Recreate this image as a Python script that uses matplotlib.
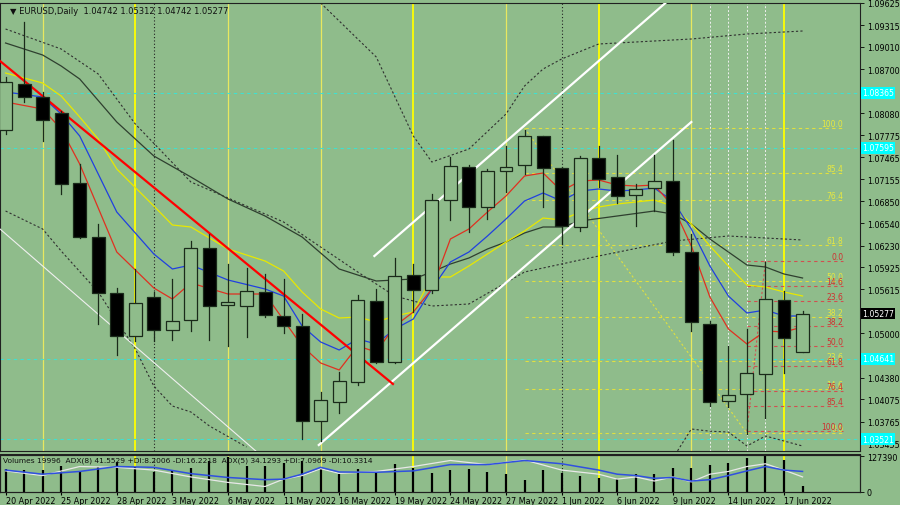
import matplotlib
matplotlib.use("Agg")
import matplotlib.pyplot as plt
import matplotlib.transforms as mtransforms
import numpy as np

BG = "#8FBC8B"

# daily OHLC, 20 Apr 2022 .. 20 Jun 2022 (bar index 0..43)
opens = [1.07847, 1.08491, 1.08309, 1.08085, 1.07105, 1.06349, 1.05565, 1.04963, 1.05509, 1.05047,
         1.05187, 1.06195, 1.05397, 1.05383, 1.05579, 1.05243, 1.05103, 1.03773, 1.04039, 1.04319,
         1.05453, 1.04599, 1.05817, 1.05607, 1.06867, 1.07329, 1.06769, 1.07273, 1.07357, 1.07763,
         1.07315, 1.06489, 1.07455, 1.07189, 1.06937, 1.07035, 1.07133, 1.06139, 1.05131, 1.04053,
         1.04151, 1.04431, 1.05467, 1.04742]
highs = [1.08589, 1.09359, 1.08379, 1.08113, 1.07371, 1.06531, 1.05635, 1.05901, 1.05579, 1.05761,
         1.06293, 1.06391, 1.05971, 1.05915, 1.05831, 1.05761, 1.05271, 1.04179, 1.04459, 1.05537,
         1.05621, 1.06055, 1.05971, 1.06951, 1.07469, 1.07357, 1.07301, 1.07623, 1.07847, 1.07763,
         1.07329, 1.07483, 1.07623, 1.07497, 1.07091, 1.07497, 1.07707, 1.06391, 1.05173, 1.04823,
         1.05061, 1.05999, 1.05593, 1.05312]
lows = [1.07791, 1.08239, 1.07693, 1.06951, 1.06335, 1.05131, 1.04697, 1.04893, 1.04893, 1.04907,
        1.05033, 1.04907, 1.04823, 1.04949, 1.05229, 1.05005, 1.03521, 1.03493, 1.03885, 1.04277,
        1.04585, 1.04585, 1.05299, 1.05565, 1.06587, 1.06419, 1.06601, 1.06979, 1.07231, 1.06769,
        1.06251, 1.06433, 1.07049, 1.06825, 1.06503, 1.06713, 1.06097, 1.05033, 1.03983, 1.03969,
        1.03591, 1.03815, 1.04445, 1.04742]
closes = [1.08519, 1.08309, 1.07987, 1.07091, 1.06349, 1.05565, 1.04963, 1.05425, 1.05047, 1.05173,
          1.06195, 1.05383, 1.05439, 1.05593, 1.05257, 1.05103, 1.03773, 1.04067, 1.04333, 1.05467,
          1.04599, 1.05803, 1.05607, 1.06867, 1.07343, 1.06769, 1.07273, 1.07329, 1.07763, 1.07315,
          1.06503, 1.07455, 1.07161, 1.06923, 1.07021, 1.07133, 1.06139, 1.05159, 1.04039, 1.04137,
          1.04445, 1.05481, 1.04935, 1.05277]
volumes = [83300, 79730, 77350, 94010, 74970, 89250, 107100, 89250, 71400, 79730,
           86870, 109480, 124950, 91630, 91630, 103530, 110670, 83300, 65450, 83300,
           71400, 101150, 85680, 67830, 79730, 80920, 71400, 65450, 44030, 79730,
           67830, 55930, 49980, 47600, 63070, 63070, 85680, 85680, 95200, 103530,
           121000, 127390, 115430, 19996]

date_ticks = [0, 3, 6, 9, 12, 15, 18, 21, 24, 27, 30, 33, 36, 39, 42]
date_labels = ["20 Apr 2022", "25 Apr 2022", "28 Apr 2022", "3 May 2022", "6 May 2022",
               "11 May 2022", "16 May 2022", "19 May 2022", "24 May 2022", "27 May 2022",
               "1 Jun 2022", "6 Jun 2022", "9 Jun 2022", "14 Jun 2022", "17 Jun 2022"]

# moving averages
red_idx = [0, 2, 3, 4, 6, 8, 9, 10, 12, 14, 16, 17, 18, 19, 20, 21, 22, 23, 24, 25, 26, 27, 28, 29,
           30, 31, 32, 33, 34, 35, 36, 37, 38, 39, 40, 41, 42, 43]
red_ma = [1.08239, 1.08141, 1.07861, 1.07371, 1.06139, 1.05635, 1.05481, 1.05705, 1.05551, 1.05551,
          1.04823, 1.04585, 1.04487, 1.04823, 1.04739, 1.05103, 1.05299, 1.05621, 1.06321, 1.06461,
          1.06699, 1.06923, 1.07203, 1.07245, 1.06993, 1.07133, 1.07147, 1.07077, 1.07063, 1.07077,
          1.06783, 1.06223, 1.05509, 1.05061, 1.04851, 1.05033, 1.05019, 1.05089]
blue_idx = [0, 2, 3, 4, 6, 8, 9, 10, 12, 14, 15, 16, 17, 18, 19, 20, 21, 22, 23, 24, 25, 26, 27, 28,
            29, 30, 31, 32, 33, 34, 35, 36, 37, 38, 39, 40, 41, 42, 43]
blue_ma = [1.08379, 1.08309, 1.08071, 1.07763, 1.06699, 1.06111, 1.05901, 1.05957, 1.05747, 1.05621,
           1.05523, 1.05103, 1.04879, 1.04767, 1.04921, 1.04851, 1.05061, 1.05201, 1.05621, 1.05999,
           1.06139, 1.06363, 1.06601, 1.06853, 1.06965, 1.06853, 1.06993, 1.07021, 1.06993, 1.07007,
           1.07035, 1.06853, 1.06461, 1.05943, 1.05523, 1.05285, 1.05327, 1.05243, 1.05243]
yellow_idx = [0, 2, 3, 4, 5, 6, 8, 9, 10, 12, 14, 15, 16, 17, 18, 19, 20, 21, 22, 23, 24, 25, 26,
              27, 28, 29, 30, 31, 32, 33, 34, 35, 36, 37, 38, 39, 40, 41, 42, 43]
yellow_ma = [1.08645, 1.08505, 1.08323, 1.08029, 1.07721, 1.07301, 1.06783, 1.06517, 1.06489, 1.06181,
             1.06013, 1.05873, 1.05579, 1.05341, 1.05215, 1.05229, 1.05159, 1.05243, 1.05299, 1.05789,
             1.05789, 1.05943, 1.06111, 1.06279, 1.06433, 1.06615, 1.06587, 1.06699, 1.06769, 1.06811,
             1.06839, 1.06867, 1.06783, 1.06531, 1.06223, 1.05943, 1.05677, 1.05649, 1.05579, 1.05523]
gray_idx = [0, 2, 3, 4, 6, 8, 10, 12, 14, 16, 18, 20, 22, 23, 24, 25, 26, 27, 28, 29, 30, 31, 33,
            35, 36, 37, 38, 39, 40, 41, 42, 43]
gray_ma = [1.09065, 1.08897, 1.08743, 1.08561, 1.07959, 1.07483, 1.07189, 1.06881, 1.06643, 1.06349,
           1.05901, 1.05733, 1.05761, 1.05859, 1.05971, 1.06055, 1.06181, 1.06279, 1.06405, 1.06489,
           1.06489, 1.06573, 1.06643, 1.06713, 1.06671, 1.06531, 1.06321, 1.06139, 1.05957, 1.05929,
           1.05831, 1.05775]

# dotted band lines
band_a_idx = [0, 3, 5, 7, 10, 15, 19, 21, 23, 25, 28, 32, 36, 39, 43]
band_a = [1.09261, 1.08981, 1.08631, 1.07931, 1.07119, 1.06559, 1.05859, 1.05523, 1.05383, 1.05411,
          1.05859, 1.06083, 1.06293, 1.06363, 1.06307]
band_b_idx = [17, 20, 22, 23, 25, 27, 28, 29, 30, 32, 35, 37, 40, 43]
band_b = [1.09625, 1.08869, 1.07763, 1.07399, 1.07581, 1.08071, 1.08463, 1.08701, 1.08841, 1.09051,
          1.09093, 1.09121, 1.09191, 1.09233]
band_c1_idx = [0, 2, 3, 5, 7, 8, 9, 10, 11, 13]
band_c1 = [1.06713, 1.06461, 1.06153, 1.05579, 1.04781, 1.04263, 1.03983, 1.03899, 1.03703, 1.03409]
band_c2_idx = [36, 37, 38, 39, 40, 41, 43]
band_c2 = [1.03250, 1.03661, 1.03630, 1.03619, 1.03423, 1.03563, 1.03423]

# trend lines (bar index, price)
red_trend = ([-0.3, 20.9], [1.08813, 1.04291])
white_thin = ([-0.3, 13.5], [1.06461, 1.03353])
chan_upper = ([19.9, 35.6], [1.06083, 1.09625])
chan_lower = ([16.9, 37.0], [1.03437, 1.07959])

# fibonacci
fib_levels = [0.0, 14.6, 23.6, 38.2, 50.0, 61.8, 76.4, 85.4, 100.0]
fib_y_lo, fib_y_hi = 1.03600, 1.07870
fib_r_top, fib_r_bot = 1.06013, 1.03633

cyan_levels = [1.08365, 1.07595, 1.04641, 1.03521]

# ADX (panel units)
adx_idx = [0, 2, 4, 6, 8, 10, 12, 14, 15, 16, 17, 18, 20, 22, 24, 26, 28, 30, 32, 33, 34, 35, 36,
           37, 38, 39, 40, 41, 42, 43]
adx_blue = [80, 65, 75, 93, 90, 67, 53, 45, 47, 65, 90, 73, 72, 77, 100, 100, 115, 103, 80, 65, 60,
            50, 53, 40, 45, 60, 77, 93, 80, 75]
adx_white = [77, 60, 93, 90, 80, 55, 35, 20, 47, 60, 85, 68, 75, 93, 115, 100, 117, 80, 65, 47, 55,
             40, 55, 37, 65, 75, 93, 103, 80, 55]

right_ticks = [1.09625, 1.09315, 1.09010, 1.08700, 1.08080, 1.07775, 1.07465, 1.07155, 1.06850,
               1.06540, 1.06230, 1.05925, 1.05615, 1.05000, 1.04380, 1.04075, 1.03765, 1.03455]

n = len(closes)
x = np.arange(n)

fig = plt.figure(figsize=(9, 5.06), dpi=100, facecolor=BG)
ax = fig.add_axes([0.0, 1 - 452 / 506, 860 / 900, 448 / 506], facecolor=BG)
axv = fig.add_axes([0.0, 1 - 493 / 506, 860 / 900, 37 / 506], facecolor=BG)

XL = (-0.3, 46.1)
ax.set_xlim(*XL)
ax.set_ylim(1.03353, 1.09625)

# vertical separators (Fridays / month starts)
for i in [2, 12, 17, 27, 37]:
    ax.axvline(i, color="#E8E860", lw=0.9, zorder=1)
    axv.axvline(i, color="#E8E860", lw=0.9, zorder=1)
for i in [7, 22, 32, 42]:
    ax.axvline(i, color="#FFFF00", lw=1.3, zorder=1)
    axv.axvline(i, color="#FFFF00", lw=1.3, zorder=1)
for i in [8, 30]:
    ax.axvline(i, color="#222222", lw=0.8, ls=(0, (1, 2)), zorder=1)
    axv.axvline(i, color="#222222", lw=0.8, ls=(0, (1, 2)), zorder=1)
for i in [38, 39, 40, 41]:
    ax.axvline(i, color="#F0F0F0", lw=0.7, ls=(0, (2, 2)), zorder=1)

trans = mtransforms.blended_transform_factory(ax.transAxes, ax.transData)
for lv in cyan_levels:
    ax.axhline(lv, color="#40E0D0", lw=0.8, ls=(0, (3, 3)), zorder=1)
    ax.text(1.002, lv, f"{lv:.5f}", transform=trans, fontsize=5.6, color="white", va="center",
            ha="left", bbox=dict(boxstyle="square,pad=0.15", fc="#00FFFF", ec="none"),
            clip_on=False, zorder=6)

# fibonacci (yellow, from the high down to the low)
for lv in fib_levels:
    p = fib_y_lo + lv / 100 * (fib_y_hi - fib_y_lo)
    ax.plot([28.0, 45.2], [p, p], color="#E0E040", lw=0.8, ls=(0, (3, 3)), zorder=2)
    ax.text(45.2, p, f"{lv:.1f}", color="#E8E840", fontsize=5.5, ha="right", va="bottom", zorder=6)
ax.plot([28.0, 40.0], [fib_y_hi, fib_y_lo], color="#E0E040", lw=0.8, ls=(0, (2, 2)), zorder=2)
for lv in fib_levels:
    p = fib_r_top - lv / 100 * (fib_r_top - fib_r_bot)
    ax.plot([40.0, 45.2], [p, p], color="#D05050", lw=0.8, ls=(0, (3, 3)), zorder=2)
    ax.text(45.2, p, f"{lv:.1f}", color="#D03030", fontsize=5.5, ha="right", va="bottom", zorder=6)
ax.plot([40.0, 41.0], [fib_r_bot, fib_r_top], color="#D05050", lw=0.8, ls=(0, (2, 2)), zorder=2)

# bands and averages
ax.plot(band_a_idx, band_a, color="#303030", lw=0.8, ls=(0, (2, 2)), zorder=2)
ax.plot(band_b_idx, band_b, color="#303030", lw=0.8, ls=(0, (2, 2)), zorder=2)
ax.plot(band_c1_idx, band_c1, color="#303030", lw=0.8, ls=(0, (2, 2)), zorder=2)
ax.plot(band_c2_idx, band_c2, color="#303030", lw=0.8, ls=(0, (2, 2)), zorder=2)
ax.plot(gray_idx, gray_ma, color="#2F3F2F", lw=0.9, zorder=3)
ax.plot(yellow_idx, yellow_ma, color="#E8E800", lw=0.9, zorder=3)
ax.plot(blue_idx, blue_ma, color="#2040E0", lw=0.9, zorder=3)
ax.plot(red_idx, red_ma, color="#E03020", lw=0.9, zorder=3)

ax.plot(*white_thin, color="#F0F0F0", lw=0.8, zorder=3)
ax.plot(*chan_upper, color="white", lw=1.6, zorder=3)
ax.plot(*chan_lower, color="white", lw=1.6, zorder=3)
ax.plot(*red_trend, color="#FF0000", lw=1.6, zorder=3)

# candles
for i in range(n):
    o, h, l, c = opens[i], highs[i], lows[i], closes[i]
    ax.plot([i, i], [l, h], color="#1A2A1A", lw=0.9, zorder=4)
    lo_b, hi_b = min(o, c), max(o, c)
    hgt = max(hi_b - lo_b, 0.00004)
    fc = "black" if c < o else BG
    ax.add_patch(plt.Rectangle((i - 0.35, lo_b), 0.7, hgt, fc=fc, ec="#1A2A1A", lw=0.9, zorder=5))

# right price scale
ax.yaxis.tick_right()
ax.set_yticks(right_ticks)
ax.set_yticklabels([f"{t:.5f}" for t in right_ticks], fontsize=5.8)
ax.tick_params(axis="y", length=3, width=0.6, pad=2, colors="black")
ax.set_xticks([])
ax.text(1.002, closes[-1], f"{closes[-1]:.5f}", transform=trans, fontsize=5.6, color="white",
        va="center", ha="left", bbox=dict(boxstyle="square,pad=0.15", fc="black", ec="none"),
        clip_on=False, zorder=7)
for s in ax.spines.values():
    s.set_color("#202020")
    s.set_linewidth(0.8)
ax.text(0.012, 0.993, "\u25bc EURUSD,Daily  1.04742 1.05312 1.04742 1.05277", transform=ax.transAxes,
        fontsize=6, va="top", ha="left", color="#101010")

# volume / ADX panel
axv.set_xlim(*XL)
axv.set_ylim(0, 132000)
axv.vlines(x, 0, volumes, color="black", lw=1.6, zorder=3)
axa = axv.twinx()
axa.set_xlim(*XL)
axa.set_ylim(0, 135)
axa.plot(adx_idx, adx_white, color="#E8E8E8", lw=0.9, zorder=3)
axa.plot(adx_idx, adx_blue, color="#3050E0", lw=1.1, zorder=4)
axa.set_yticks([])
axv.yaxis.tick_right()
axv.set_yticks([0, 127390])
axv.set_yticklabels(["0", "127390"], fontsize=5.8)
axv.tick_params(axis="y", length=3, width=0.6, pad=2)
axv.set_xticks(date_ticks)
axv.set_xticklabels(date_labels, fontsize=5.8, ha="left")
axv.tick_params(axis="x", length=2, pad=1)
for s in list(axv.spines.values()) + list(axa.spines.values()):
    s.set_color("#202020")
    s.set_linewidth(0.8)
axv.spines["top"].set_linewidth(1.5)
axv.text(0.003, 0.97, "Volumes 19996  ADX(8) 41.5529 +DI:8.2006 -DI:16.2218  ADX(5) 34.1293 +DI:7.0969 -DI:10.3314",
         transform=axv.transAxes, fontsize=5.4, va="top", ha="left", color="#101010", zorder=6)

fig.savefig("out.png", dpi=100, facecolor=BG)
